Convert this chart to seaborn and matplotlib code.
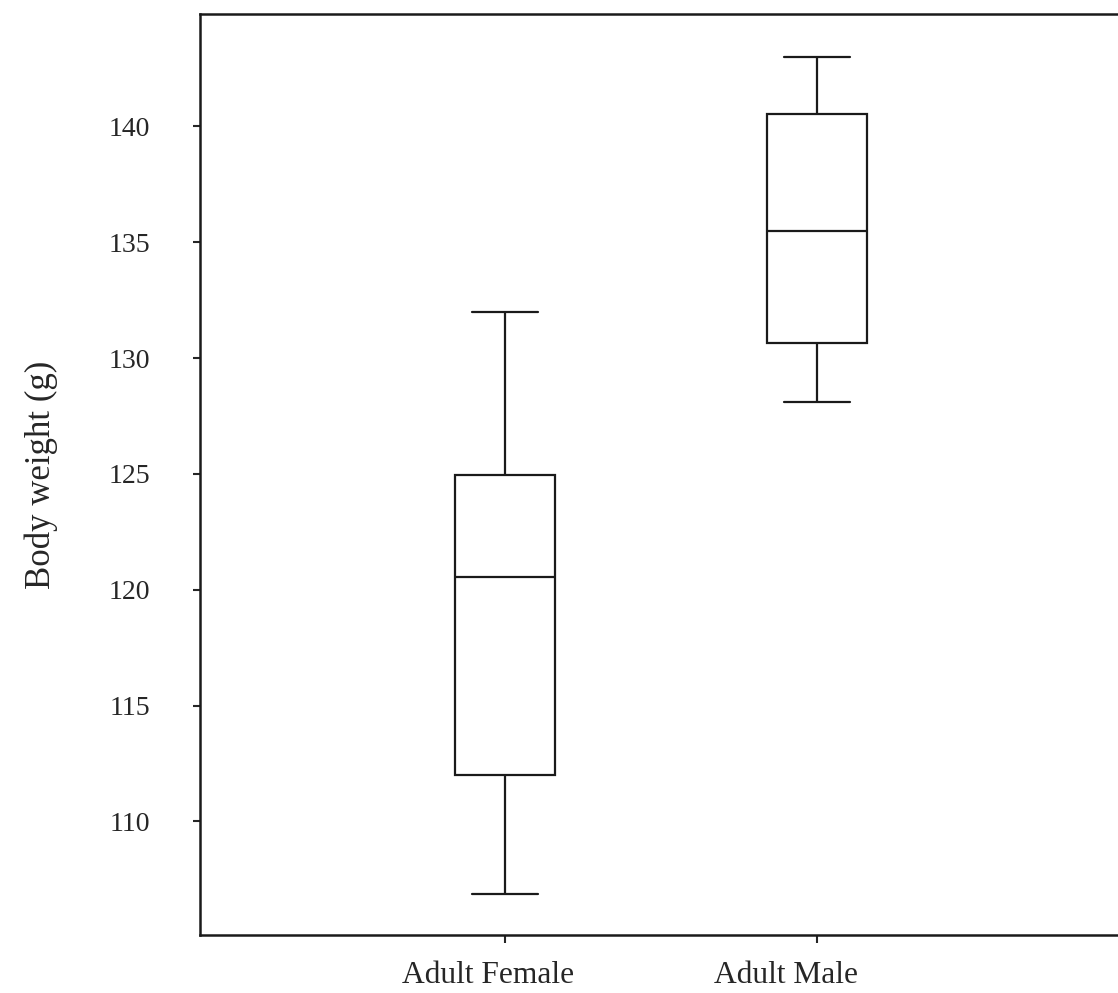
import seaborn as sns
import pandas as pd
import matplotlib.pyplot as plt
from matplotlib.transforms import ScaledTranslation

# five-number summaries (min, Q1, median, Q3, max)
groups = ["Adult Female", "Adult Male"]
female = [106.85, 112.0, 120.55, 124.95, 132.0]
male = [128.1, 130.65, 135.5, 140.55, 143.0]
yticks = [110, 115, 120, 125, 130, 135, 140]

df = pd.DataFrame({
    "group": [groups[0]] * len(female) + [groups[1]] * len(male),
    "weight": female + male,
})

sns.set_style("ticks")
plt.rcParams["font.family"] = ["Liberation Serif", "DejaVu Serif"]

fig = plt.figure(figsize=(11.18, 9.93), dpi=100)
ax = fig.add_axes([0.1789, 0.0584, 0.8318, 0.9275])

sns.boxplot(data=df, x="group", y="weight", order=groups, width=0.32,
            color="white", linecolor="#1a1a1a", linewidth=1.6, saturation=1,
            whis=3, capwidths=0.21, ax=ax)

ax.set_xlim(-0.978, 2.003)
ax.set_ylim(105.1, 144.85)
ax.set_yticks(yticks)
ax.set_yticklabels([str(t) for t in yticks], fontsize=20)
ax.tick_params(axis="y", direction="out", length=5, width=1.5, pad=31)
ax.tick_params(axis="x", direction="out", length=6, width=1.5, pad=13, labelsize=22.7)
ax.set_xlabel("")
ax.set_ylabel("Body weight (g)", fontsize=25, labelpad=36)

# labels in the original start a little left of each tick
shift = ScaledTranslation(-1.03, 0, fig.dpi_scale_trans)
for lab in ax.get_xticklabels():
    lab.set_horizontalalignment("left")
    lab.set_transform(lab.get_transform() + shift)

for s in ax.spines.values():
    s.set_visible(True)
    s.set_linewidth(1.8)
    s.set_color("#1a1a1a")

plt.savefig("out.png", dpi=100)
